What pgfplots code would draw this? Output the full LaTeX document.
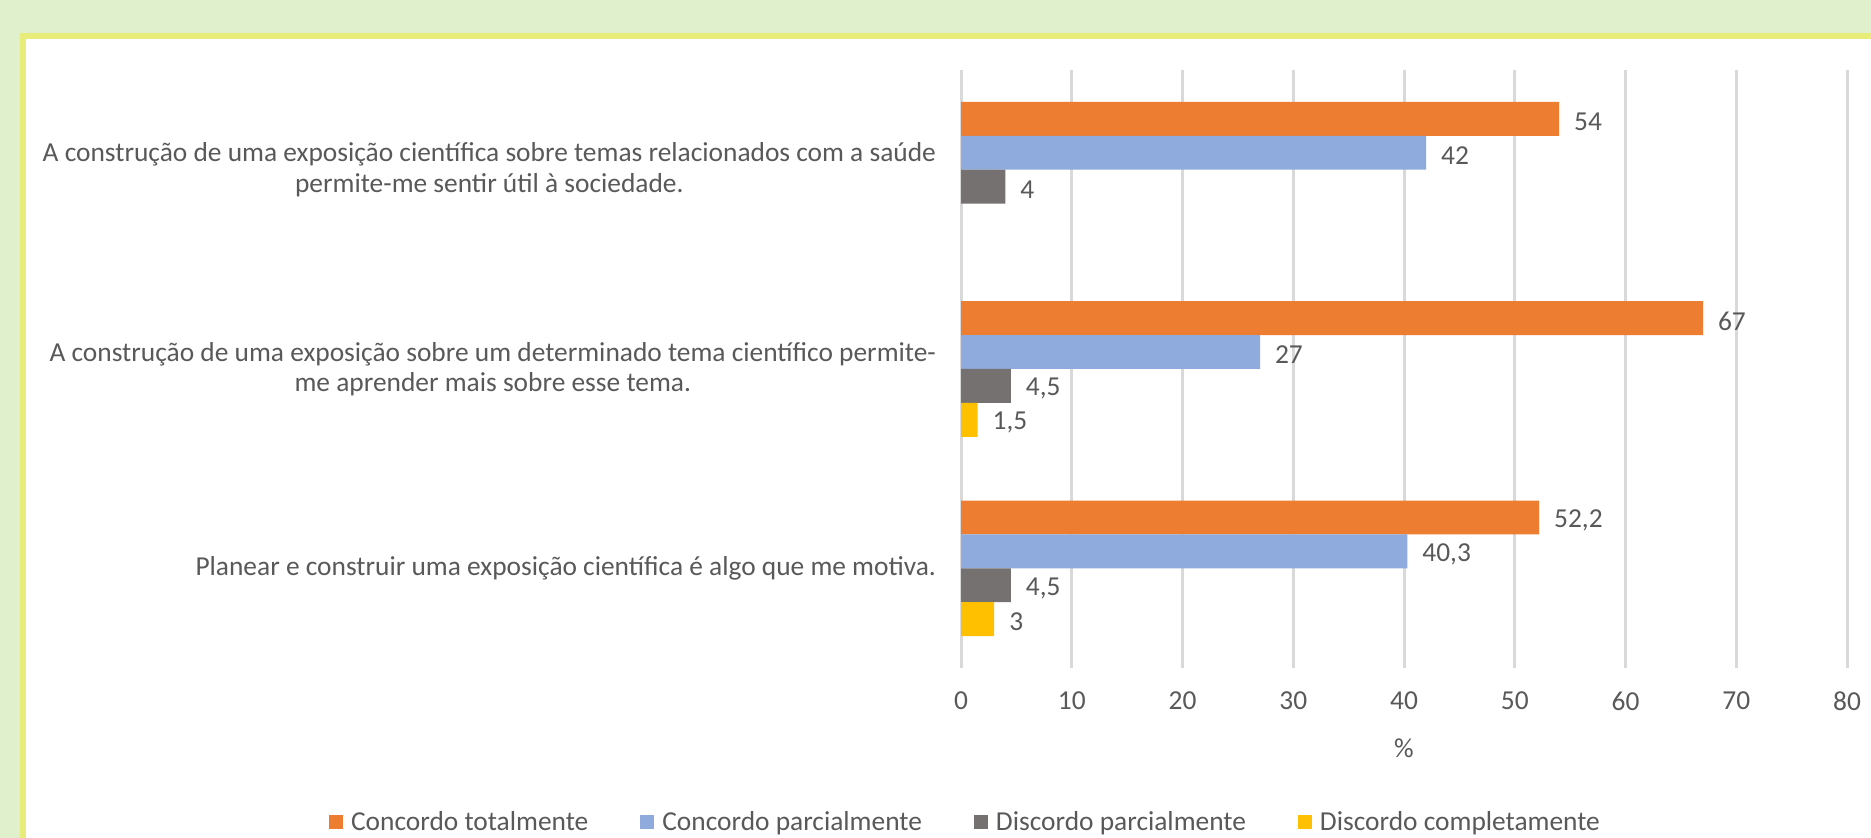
\documentclass[border=0pt]{standalone}
\usepackage{pgfplots}
\pgfplotsset{compat=1.18}
\usepackage{fontspec}
\setmainfont{Carlito}
\definecolor{bggreen}{HTML}{E0F0CC}
\definecolor{bdyellow}{HTML}{E8EC78}
\definecolor{corange}{HTML}{ED7D31}
\definecolor{cblue}{HTML}{8FAADC}
\definecolor{cgray}{HTML}{767171}
\definecolor{cyellow}{HTML}{FFC000}
\definecolor{txt}{HTML}{595959}
\definecolor{gridc}{HTML}{D9D9D9}
\pgfplotsset{sqlegend/.style={legend image code/.code={\fill[##1] (0pt,-3.5pt) rectangle (7pt,3.5pt);}}}
\newcommand{\fs}{\fontsize{13.7}{15.3}\selectfont}
\begin{document}
\begin{tikzpicture}
\path[use as bounding box] (0,0) rectangle (935.5pt,419pt);
\clip (0,0) rectangle (935.5pt,419pt);
\fill[bggreen] (0,0) rectangle (935.5pt,419pt);
\fill[white] (13pt,-10pt) rectangle (950pt,399.5pt);
\draw[bdyellow, line width=3pt] (11.5pt,-10pt) -- (11.5pt,401pt) -- (950pt,401pt);
\begin{axis}[
  at={(480.5pt,85pt)}, anchor=south west,
  scale only axis, width=443pt, height=299pt,
  xbar, bar width=0.17,
  xmin=0, xmax=80, ymin=-0.5, ymax=2.5,
  y dir=reverse,
  xtick={0,10,...,80},
  ytick={0,1,2},
  yticklabels={{A construção de uma exposição científica sobre temas relacionados com a saúde\\permite-me sentir útil à sociedade.},
               {A construção de uma exposição sobre um determinado tema científico permite-\\me aprender mais sobre esse tema.},
               {Planear e construir uma exposição científica é algo que me motiva.}},
  axis line style={draw=none},
  major tick length=0pt,
  xmajorgrids, major grid style={gridc, line width=1.5pt},
  /pgf/number format/assume math mode=true,
  /pgf/number format/use comma,
  tick label style={font=\fs, text=txt},
  yticklabel style={align=center, xshift=-9pt},
  xticklabel style={yshift=-8.5pt},
  xlabel={\%}, xlabel style={font=\fs, text=txt, yshift=-7pt},
  nodes near coords,
  nodes near coords style={font=\fs, text=txt, xshift=4pt, yshift=-1.5pt},
  legend columns=4,
  legend style={draw=none, fill=none, font=\fs, text=txt,
     at={(rel axis cs:0.0062,-0.2575)}, anchor=center,
     /tikz/every even column/.append style={column sep=24pt},
     /tikz/every odd column/.append style={column sep=2pt}},
  legend cell align=left,
]
\addplot[fill=corange, draw=none, bar shift=-0.255, sqlegend]
  coordinates {(54,0) (67,1) (52.2,2)};
\addplot[fill=cblue, draw=none, bar shift=-0.085, sqlegend]
  coordinates {(42,0) (27,1) (40.3,2)};
\addplot[fill=cgray, draw=none, bar shift=0.085, sqlegend]
  coordinates {(4,0) (4.5,1) (4.5,2)};
\addplot[fill=cyellow, draw=none, bar shift=0.255, sqlegend]
  coordinates {(1.5,1) (3,2)};
\legend{Concordo totalmente, Concordo parcialmente, Discordo parcialmente, Discordo completamente}
\end{axis}
\end{tikzpicture}
\end{document}
